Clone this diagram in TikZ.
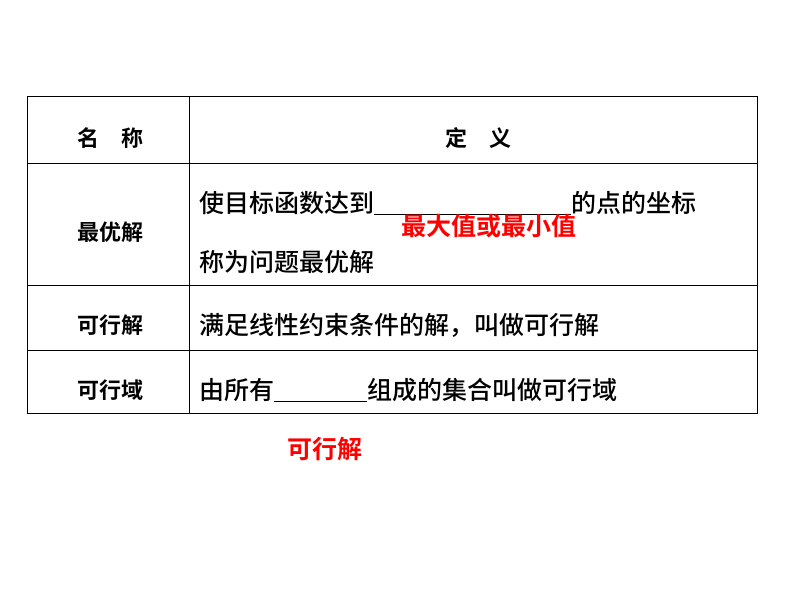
\documentclass[tikz,border=0pt]{standalone}
\usepackage{fontspec}
\newfontfamily\cjk{Noto Sans CJK SC Medium}
\newfontfamily\cjkb{Noto Sans CJK SC Bold}
\begin{document}
\begin{tikzpicture}[x=1pt,y=-1pt,
  txt/.style={font=\cjk\fontsize{25}{28}\selectfont,inner sep=0pt},
  lab/.style={font=\cjkb\fontsize{22}{26}\selectfont,inner sep=0pt},
  red/.style={font=\cjkb\fontsize{25}{28}\selectfont,inner sep=0pt,text=red}]
\useasboundingbox (0,0) rectangle (794,596);
\draw[line width=1pt] (27,97) rectangle (757,413);
\draw (189,97) -- (189,413);
\draw (27,163) -- (757,163);
\draw (27,285) -- (757,285);
\draw (27,350) -- (757,350);
\node[lab] (h1) at (110,138) {名\quad 称};
\node[lab] (h2) at (478,138) {定\quad 义};
\node[lab] (n1) at (110,232) {最优解};
\node[lab] (n2) at (110,325) {可行解};
\node[lab] (n3) at (110,390) {可行域};
\node[txt,anchor=west] (d1a) at (199,203) {使目标函数达到\underline{\hspace{197pt}}的点的坐标};
\node[txt,anchor=west] (d1b) at (199,262) {称为问题最优解};
\node[red] (r1) at (489,226) {最大值或最小值};
\node[txt,anchor=west] (d2) at (199,325) {满足线性约束条件的解，叫做可行解};
\node[txt,anchor=west] (d3) at (199,390) {由所有\underline{\hspace{93pt}}组成的集合叫做可行域};
\node[red] (r2) at (325,449) {可行解};
\end{tikzpicture}
\end{document}
